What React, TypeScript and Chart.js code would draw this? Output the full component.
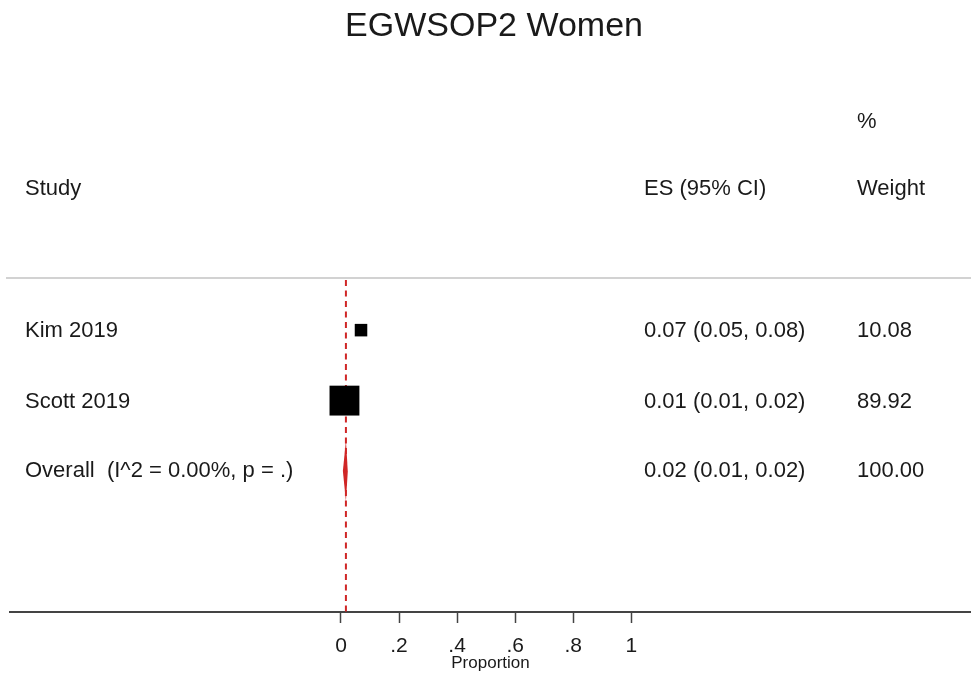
import React, { useEffect, useRef } from "react";
import { Chart, registerables } from "chart.js";

Chart.register(...registerables);

// ---------- data ----------
const chartTitle = "EGWSOP2 Women";
const axisTitle = "Proportion";
const studies = ["Kim 2019", "Scott 2019"];
const esValues = [0.069, 0.012];
const ciLow = [0.05, 0.01];
const ciHigh = [0.08, 0.02];
const weights = [10.08, 89.92];
const overallLabel = "Overall  (I^2 = 0.00%, p = .)";
const overallES = 0.017;
const overallLow = 0.01;
const overallHigh = 0.02;
const overallWeight = 100.0;
const xTicks = [0, 0.2, 0.4, 0.6, 0.8, 1];
const xTickLabels = ["0", ".2", ".4", ".6", ".8", "1"];
const studyRows = [4, 3];
const overallRow = 2;
const headerStudy = "Study";
const headerES = "ES (95% CI)";
const headerPct = "%";
const headerWeight = "Weight";

const FONT = '"Liberation Sans", Arial, Helvetica, sans-serif';
const TEXT = "#1a1a1a";
const RED = "#d02626";

const fmt = (v: number) => v.toFixed(2);

const forestPlugin = {
  id: "forest",
  beforeDatasetsDraw(chart: any) {
    const { ctx, chartArea, scales } = chart;
    const xs = scales.x;
    const ys = scales.y;
    ctx.save();
    // top grey separator
    ctx.strokeStyle = "#d2d2d2";
    ctx.lineWidth = 2;
    ctx.beginPath();
    ctx.moveTo(6, chartArea.top);
    ctx.lineTo(chart.width, chartArea.top);
    ctx.stroke();

    // CI lines
    ctx.strokeStyle = "#000";
    ctx.lineWidth = 1.5;
    studies.forEach((_, i) => {
      const y = ys.getPixelForValue(studyRows[i]);
      ctx.beginPath();
      ctx.moveTo(xs.getPixelForValue(ciLow[i]), y);
      ctx.lineTo(xs.getPixelForValue(ciHigh[i]), y);
      ctx.stroke();
    });

    // overall dashed reference line
    const xr = xs.getPixelForValue(overallES);
    ctx.strokeStyle = RED;
    ctx.lineWidth = 2;
    ctx.setLineDash([6, 4.5]);
    ctx.beginPath();
    ctx.moveTo(xr, chartArea.top + 2);
    ctx.lineTo(xr, chartArea.bottom);
    ctx.stroke();
    ctx.setLineDash([]);

    // diamond
    const yo = ys.getPixelForValue(overallRow);
    const half = ys.getPixelForValue(overallRow - 0.43) - yo;
    const xl = xs.getPixelForValue(overallLow) - 1;
    const xh = xs.getPixelForValue(overallHigh) + 1;
    ctx.fillStyle = RED;
    ctx.beginPath();
    ctx.moveTo(xl, yo);
    ctx.lineTo(xr, yo - half);
    ctx.lineTo(xh, yo);
    ctx.lineTo(xr, yo + half);
    ctx.closePath();
    ctx.fill();
    ctx.restore();
  },
  afterDraw(chart: any) {
    const { ctx, scales } = chart;
    const ys = scales.y;
    ctx.save();
    ctx.fillStyle = TEXT;
    ctx.textBaseline = "middle";
    // title
    ctx.textAlign = "center";
    ctx.font = `34px ${FONT}`;
    ctx.fillText(chartTitle, 494, 27);

    ctx.textAlign = "left";
    ctx.font = `22px ${FONT}`;
    const colStudy = 25;
    const colES = 644;
    const colW = 857;
    const yHead = ys.getPixelForValue(6);
    const yPct = ys.getPixelForValue(6.96);
    ctx.fillText(headerStudy, colStudy, yHead);
    ctx.fillText(headerES, colES, yHead);
    ctx.fillText(headerWeight, colW, yHead);
    ctx.fillText(headerPct, colW, yPct);

    studies.forEach((s, i) => {
      const y = ys.getPixelForValue(studyRows[i]) + 1;
      ctx.fillText(s, colStudy, y);
      ctx.fillText(`${fmt(esValues[i])} (${fmt(ciLow[i])}, ${fmt(ciHigh[i])})`, colES, y);
      ctx.fillText(fmt(weights[i]), colW, y);
    });
    const yo = ys.getPixelForValue(overallRow);
    ctx.fillText(overallLabel, colStudy, yo);
    ctx.fillText(`${fmt(overallES)} (${fmt(overallLow)}, ${fmt(overallHigh)})`, colES, yo);
    ctx.fillText(fmt(overallWeight), colW, yo);
    ctx.restore();
  },
};

export default function App() {
  const ref = useRef<HTMLCanvasElement | null>(null);

  useEffect(() => {
    if (!ref.current) return;
    const boxRadius = weights.map((w) => (3.8 + 2.75 * Math.sqrt(w)) / (2 * Math.SQRT1_2));
    const chart = new Chart(ref.current, {
      type: "scatter",
      data: {
        datasets: [
          {
            label: "Studies",
            data: studies.map((_, i) => ({ x: esValues[i], y: studyRows[i] })),
            pointStyle: "rect",
            pointRadius: boxRadius,
            pointHoverRadius: boxRadius,
            pointBorderWidth: 0,
            backgroundColor: "#000",
            borderColor: "#000",
          },
        ],
      },
      options: {
        responsive: false,
        animation: false,
        events: [],
        layout: { autoPadding: false, padding: { left: 10, right: 0, top: 278, bottom: 0 } },
        plugins: {
          legend: { display: false },
          tooltip: { enabled: false },
          title: { display: false },
        },
        scales: {
          x: {
            type: "linear",
            min: -1.14,
            max: 2.17,
            afterBuildTicks: (scale: any) => {
              scale.ticks = xTicks.map((v) => ({ value: v }));
            },
            afterFit: (scale: any) => {
              scale.height = 63;
              scale.paddingLeft = 0;
              scale.paddingRight = 0;
            },
            ticks: {
              autoSkip: false,
              maxRotation: 0,
              padding: 11,
              color: TEXT,
              font: { family: FONT, size: 21 },
              callback: (_v: any, i: number) => xTickLabels[i],
            },
            grid: {
              display: true,
              drawOnChartArea: false,
              drawTicks: true,
              tickLength: 11,
              tickColor: "#444",
              tickWidth: 1.5,
            },
            border: { display: true, color: "#444", width: 2 },
            title: {
              display: true,
              text: axisTitle,
              color: TEXT,
              font: { family: FONT, size: 17 },
              padding: { top: 0, bottom: 1 },
            },
          },
          y: {
            type: "linear",
            min: 0,
            max: 4.74,
            display: false,
          },
        },
      },
      plugins: [forestPlugin],
    } as any);
    return () => chart.destroy();
  }, []);

  return (
    <div style={{ position: "absolute", left: 0, top: 0, width: 971, height: 675, background: "#fff" }}>
      <canvas ref={ref} width={971} height={675} />
    </div>
  );
}
